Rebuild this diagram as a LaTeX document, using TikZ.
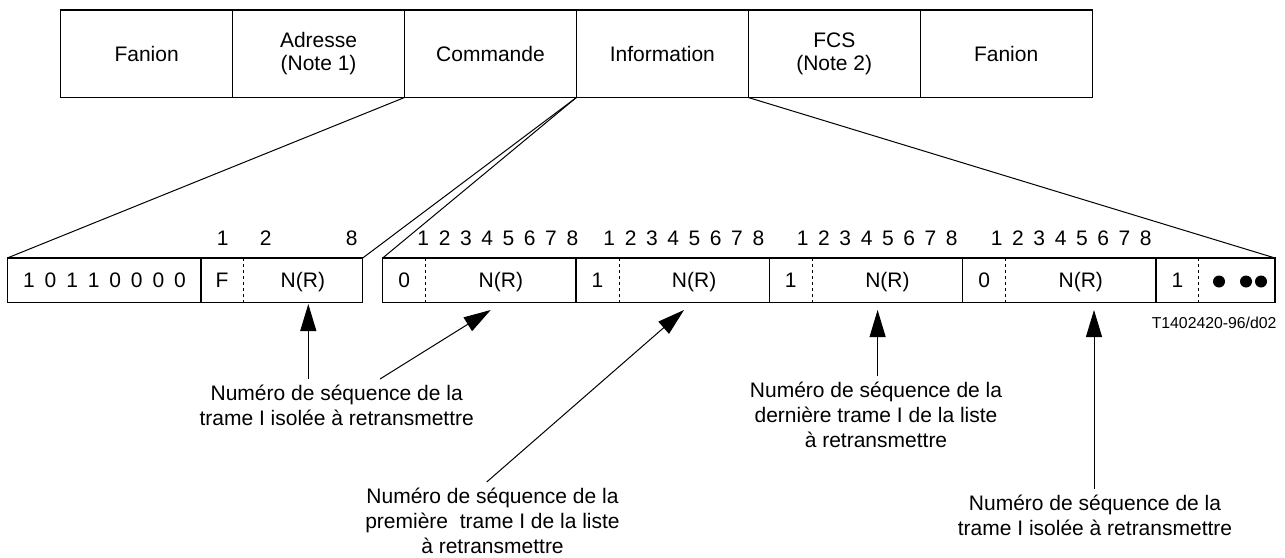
\documentclass[tikz,border=0pt]{standalone}
\usepackage{fontspec}
\setmainfont{Liberation Sans}
\usetikzlibrary{arrows.meta}
\begin{document}
\begin{tikzpicture}[x=1pt,y=-1pt,
  every node/.style={font=\fontsize{21}{23}\selectfont},
  topbox/.style={draw, line width=1.2pt, minimum width=171.9pt, minimum height=87.5pt, inner sep=0pt, outer sep=0pt, align=center},
  cell/.style={minimum height=44.5pt, inner sep=0pt, outer sep=0pt, text height=15pt, text depth=0pt},
  bitnum/.style={inner sep=0pt, text height=15pt, text depth=0pt},
  lbl/.style={align=center, inner sep=0pt, outer sep=6pt, anchor=north, font=\fontsize{21}{25}\selectfont},
  outline/.style={line width=1.2pt},
  dashsep/.style={line width=1pt, dash pattern=on 3pt off 3pt},
  link/.style={line width=1pt},
  arr/.style={line width=1pt, -{Triangle[length=27pt,width=16pt]}},
  bigdot/.style={circle, fill, inner sep=0pt, minimum size=12pt}
]
\useasboundingbox (0,0) rectangle (1285,557);

% top frame
\node[topbox] (fan1) at (146.65,53.75) {Fanion};
\node[topbox] (adr)  at (318.55,53.75) {Adresse\\(Note 1)};
\node[topbox] (cmd)  at (490.45,53.75) {Commande};
\node[topbox] (info) at (662.35,53.75) {Information};
\node[topbox] (fcs)  at (834.25,53.75) {FCS\\(Note 2)};
\node[topbox] (fan2) at (1006.15,53.75) {Fanion};

% address / control field
\node[cell, minimum width=193.7pt] (addr) at (104.15,280.25) {};
\node[bitnum] (addrbits) at (104.5,280.25) {\spaceskip=9.89pt 1 0 1 1 0 0 0 0};
\node[cell, minimum width=42pt] (fb) at (222,280.25) {F};
\node[cell, minimum width=119.7pt] (nr0) at (302.85,280.25) {N(R)};
\draw[outline] (addr.north west) rectangle (nr0.south east);
\draw[outline] (addr.north east) -- (addr.south east);
\draw[dashsep] (fb.north east) -- (fb.south east);

\node[bitnum] (n1) at (222.7,238) {1};
\node[bitnum] (n2) at (265.7,238) {2};
\node[bitnum] (n8) at (351.7,238) {8};

% information field groups
\foreach \k/\v in {0/0,1/1,2/1,3/0,4/1}{
  \node[cell, minimum width=43pt] (b\k) at (382.7+193.3*\k+21.5,280.25) {\v};
}
\foreach \k in {0,1,2,3}{
  \node[cell, minimum width=150.3pt] (r\k) at (382.7+193.3*\k+43+75.15,280.25) {N(R)};
}
\node[cell, minimum width=76.7pt] (dots) at (1236.65,280.25) {};
\draw[outline] (b0.north west) rectangle (dots.south east);
\foreach \k in {1,2,3,4}{
  \draw[outline] (b\k.north west) -- (b\k.south west);
}
\foreach \k in {0,1,2,3,4}{
  \draw[dashsep] (b\k.north east) -- (b\k.south east);
}
\node[bigdot] (d1) at (1219,281.5) {};
\node[bigdot] (d2) at (1246,281.5) {};
\node[bigdot] (d3) at (1261,281.5) {};

% bit numbering of the information octets
\foreach \k/\c in {0/497.85,1/683.85,2/877.25,3/1071.25}{
  \node[bitnum] (g\k) at (\c,238) {\spaceskip=9.62pt 1 2 3 4 5 6 7 8};
}

% expansion lines
\draw[link] (adr.south east) -- (addr.north west);
\draw[link] (cmd.south east) -- (nr0.north east);
\draw[link] (cmd.south east) -- (b0.north west);
\draw[link] (info.south east) -- (dots.north east);

% reference
\node[anchor=east, inner sep=0pt, font=\fontsize{15.8}{18}\selectfont, text height=11.3pt, text depth=0pt] (ref) at (1276.7,323) {T1402420-96/d02};

% labels
\node[lbl] (lab1) at (336.7,379) {Numéro de séquence de la\\trame I isolée à retransmettre};
\node[lbl] (lab2) at (492.5,482) {Numéro de séquence de la\\première~ trame I de la liste\\à retransmettre};
\node[lbl] (lab3) at (876,376) {Numéro de séquence de la\\dernière trame I de la liste\\à retransmettre};
\node[lbl] (lab4) at (1095,489) {Numéro de séquence de la\\trame I isolée à retransmettre};

\coordinate (tip1) at (308.3,304);
\coordinate (tip2) at (490.7,310);
\coordinate (tip3) at (684,310);
\coordinate (tip4) at (877.6,310);
\coordinate (tip5) at (1094,310);

\draw[arr] (lab1.north -| tip1) -- (tip1);
\draw[arr] ([xshift=43.3pt]lab1.north) -- (tip2);
\draw[arr] ([xshift=-5.8pt]lab2.north) -- (tip3);
\draw[arr] (lab3.north -| tip4) -- (tip4);
\draw[arr] (lab4.north -| tip5) -- (tip5);
\end{tikzpicture}
\end{document}
